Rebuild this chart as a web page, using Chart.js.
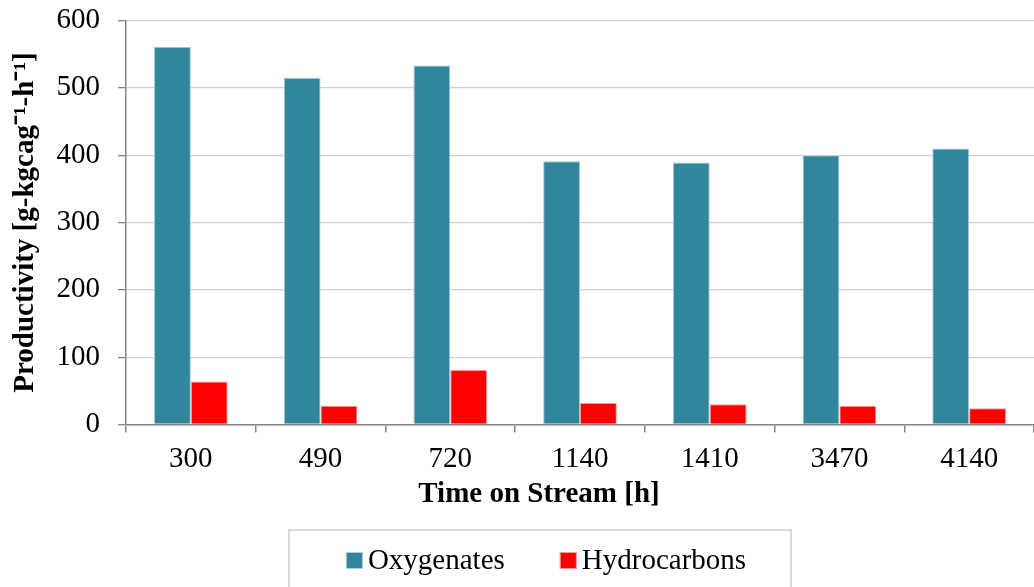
<!DOCTYPE html>
<html>
<head>
<meta charset="utf-8">
<script src="https://cdn.jsdelivr.net/npm/chart.js@4/dist/chart.umd.min.js"></script>
<style>
  html, body { margin: 0; padding: 0; background: #ffffff; }
  #wrap { width: 1034px; height: 587px; position: relative; }
</style>
</head>
<body>
<div id="wrap"><canvas id="c" width="1034" height="587"></canvas></div>
<script>
const categories = ['300', '490', '720', '1140', '1410', '3470', '4140'];
const oxygenates = [561, 515, 533, 391, 389, 400, 410];
const hydrocarbons = [64, 28, 81, 32, 30, 28, 24];
const seriesNames = ['Oxygenates', 'Hydrocarbons'];
const xTitle = 'Time on Stream [h]';
const yTitle = 'Productivity [g-kgcag\u207B\u00B9-h\u207B\u00B9]';

const SERIF = "'Liberation Serif', 'Times New Roman', serif";
const OXY = '#31869b';
const HC = '#ff0000';

const boxLegend = {
  id: 'boxLegend',
  afterDraw(chart) {
    const ctx = chart.ctx;
    ctx.save();
    ctx.font = '29px ' + SERIF;
    const items = chart.data.datasets.map(d => ({ text: d.label, color: d.backgroundColor, w: ctx.measureText(d.label).width }));
    const sq = 17, gapText = 5, gapItem = 55;
    let total = 0;
    items.forEach((it, i) => { total += sq + gapText + it.w + (i ? gapItem : 0); });
    let x = 546 - total / 2;
    const rowLeft = x;
    const baseY = 569;
    items.forEach((it, i) => {
      if (i) x += gapItem;
      ctx.fillStyle = it.color;
      ctx.fillRect(x, 552, sq, sq);
      ctx.strokeStyle = 'rgba(255,255,255,0.6)';
      ctx.lineWidth = 1;
      ctx.strokeRect(x + 0.5, 552.5, sq - 1, sq - 1);
      x += sq + gapText;
      ctx.fillStyle = '#000';
      ctx.textBaseline = 'alphabetic';
      ctx.textAlign = 'left';
      ctx.fillText(it.text, x, baseY);
      x += it.w;
    });
    ctx.strokeStyle = '#d0d0d0';
    ctx.lineWidth = 1.5;
    ctx.strokeRect(rowLeft - 57, 530, (x + 45) - (rowLeft - 57), 80);
    ctx.restore();
  }
};

function noPad(s) {
  s.paddingTop = 0; s.paddingBottom = 0; s.paddingLeft = 0; s.paddingRight = 0;
}

// The reference centres the x-axis title a little left of the plot centre.
function shiftTitle(s) {
  if (s._titleShifted) return;
  s._titleShifted = true;
  const orig = s.drawTitle;
  s.drawTitle = function () {
    const l = this.left, r = this.right;
    this.left = l - 41; this.right = r - 41;
    orig.call(this);
    this.left = l; this.right = r;
  };
}

new Chart(document.getElementById('c'), {
  type: 'bar',
  data: {
    labels: categories,
    datasets: [
      { label: seriesNames[0], data: oxygenates, backgroundColor: OXY, borderColor: '#a9cbd6', borderWidth: 1 },
      { label: seriesNames[1], data: hydrocarbons, backgroundColor: HC, borderColor: '#ff9a9a', borderWidth: 1 }
    ]
  },
  options: {
    responsive: false,
    animation: false,
    devicePixelRatio: 1,
    layout: { padding: { top: 20.5, right: -3, bottom: 53, left: 0 } },
    datasets: { bar: { categoryPercentage: 0.568, barPercentage: 1 } },
    plugins: {
      legend: { display: false },
      tooltip: { enabled: false }
    },
    scales: {
      x: {
        afterFit(s) { s.height = 109.5; noPad(s); },
        afterUpdate(s) { shiftTitle(s); },
        grid: { offset: true, drawOnChartArea: false, drawTicks: true, tickLength: 8, color: '#868686', lineWidth: 1.5 },
        border: { color: '#868686', width: 1.5 },
        ticks: { color: '#000', font: { family: SERIF, size: 29 }, padding: 9, maxRotation: 0 },
        title: { display: true, text: xTitle, color: '#000', font: { family: SERIF, size: 29, weight: 'bold' }, padding: { top: 0, bottom: 22 } }
      },
      y: {
        min: 0, max: 600,
        afterFit(s) { s.width = 126; noPad(s); },
        grid: { color: '#d0d0d0', lineWidth: 1.3, tickColor: '#868686', tickLength: 8, drawTicks: true },
        border: { color: '#868686', width: 1.5 },
        ticks: { stepSize: 100, color: '#000', font: { family: SERIF, size: 29 }, padding: 18 },
        title: { display: true, text: yTitle, color: '#000', font: { family: SERIF, size: 29, weight: 'bold' }, padding: { top: 8, bottom: 0 } }
      }
    }
  },
  plugins: [boxLegend]
});
</script>
</body>
</html>
